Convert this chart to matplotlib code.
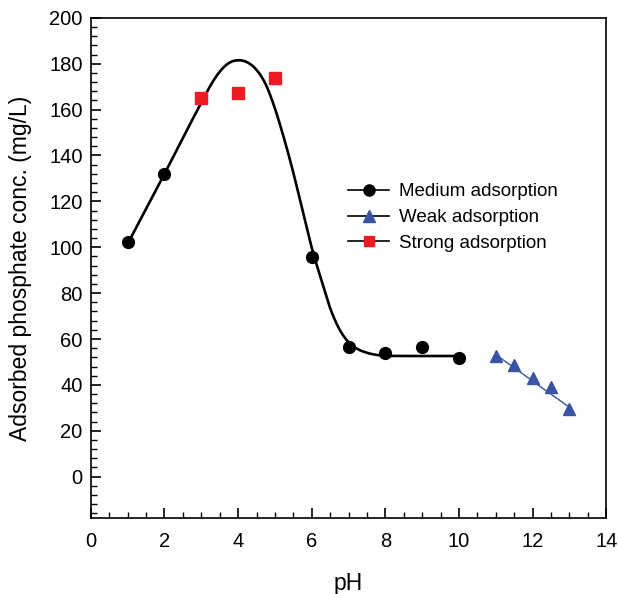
import numpy as np
import matplotlib
matplotlib.use("Agg")
import matplotlib.pyplot as plt
from matplotlib.lines import Line2D
from matplotlib.ticker import MultipleLocator

plt.rcParams['font.family'] = ['Liberation Sans', 'DejaVu Sans']

# ---- data ----
medium_x = [1, 2, 6, 7, 8, 9, 10]
medium_y = [102.3, 131.8, 95.6, 56.5, 54.1, 56.6, 51.8]

strong_x = [3, 4, 5]
strong_y = [165.2, 167.3, 173.8]

weak_x = [11, 11.5, 12, 12.5, 13]
weak_y = [52.8, 48.6, 42.8, 39.2, 29.4]

# fitted curve
fit_x = [1.0, 1.5, 2.0, 2.5, 3.0, 3.25, 3.5, 3.75, 4.0, 4.25, 4.5, 4.75,
         5.0, 5.25, 5.5, 5.75, 6.0, 6.25, 6.5, 6.75, 7.0, 7.25, 7.5, 7.75,
         8.0, 8.5, 9.0, 9.5, 10.0]
fit_y = [101.5, 116.8, 132.0, 147.7, 163.0, 170.5, 176.5, 180.3, 181.5, 180.6,
         177.3, 171.0, 160.5, 147.3, 132.5, 116.0, 99.8, 86.3, 73.5, 64.3,
         58.6, 55.6, 54.0, 53.1, 52.7, 52.6, 52.6, 52.6, 52.6]

weak_fit_x = [11, 13]
weak_fit_y = [53.2, 30.2]

x_ticks = [0, 2, 4, 6, 8, 10, 12, 14]
y_ticks = [0, 20, 40, 60, 80, 100, 120, 140, 160, 180, 200]

labels = ["Medium adsorption", "Weak adsorption", "Strong adsorption"]
x_label = "pH"
y_label = "Adsorbed phosphate conc. (mg/L)"

black = "#000000"
red = "#ED1C24"
blue = "#3A53A4"


def catmull_rom(xs, ys, n=20):
    P = np.column_stack([xs, ys]).astype(float)
    P = np.vstack([P[0], P, P[-1]])
    out = []
    for i in range(1, len(P) - 2):
        p0, p1, p2, p3 = P[i - 1], P[i], P[i + 1], P[i + 2]
        t = np.linspace(0, 1, n, endpoint=False)[:, None]
        seg = 0.5 * ((2 * p1) + (-p0 + p2) * t + (2 * p0 - 5 * p1 + 4 * p2 - p3) * t ** 2
                     + (-p0 + 3 * p1 - 3 * p2 + p3) * t ** 3)
        out.append(seg)
    out.append(P[-2][None, :])
    out = np.vstack(out)
    return out[:, 0], out[:, 1]


fig = plt.figure(figsize=(6.18, 5.94), dpi=100)
ax = fig.add_axes([0.147, 0.128, 0.834, 0.842])

cx, cy = catmull_rom(fit_x, fit_y)
ax.plot(cx, cy, color=black, lw=1.9, zorder=2)
ax.plot(weak_fit_x, weak_fit_y, color=blue, lw=1.0, zorder=2)

ax.plot(medium_x, medium_y, 'o', color=black, ms=8.5, zorder=3)
ax.plot(strong_x, strong_y, 's', color=red, ms=8.0, zorder=3)
ax.plot(weak_x, weak_y, '^', color=blue, ms=8.5, zorder=3)

ax.set_xlim(0, 14)
ax.set_ylim(-18, 200)
ax.set_xticks(x_ticks)
ax.set_yticks(y_ticks)
ax.xaxis.set_minor_locator(MultipleLocator(0.5))
ax.yaxis.set_minor_locator(MultipleLocator(4))
ax.tick_params(which='both', direction='in', top=False, right=False,
               labelsize=14.5)
ax.tick_params(axis='x', which='major', pad=10)
ax.tick_params(axis='y', which='major', pad=6)
ax.tick_params(which='major', length=7, width=1.2)
ax.tick_params(which='minor', length=4, width=1.0)
for s in ax.spines.values():
    s.set_linewidth(1.2)

ax.set_xlabel(x_label, fontsize=16.5, labelpad=15)
ax.set_ylabel(y_label, fontsize=16.5, labelpad=12)

handles = [
    Line2D([], [], color=black, lw=1.2, marker='o', ms=8, mfc=black, mec=black),
    Line2D([], [], color=black, lw=1.2, marker='^', ms=8, mfc=blue, mec=blue),
    Line2D([], [], color=black, lw=1.2, marker='s', ms=7.5, mfc=red, mec=red),
]
ax.legend(handles, labels, loc='upper left', bbox_to_anchor=(0.499, 0.669),
          frameon=False, fontsize=13.5, handlelength=2.2, handletextpad=0.5,
          labelspacing=0.46, borderpad=0, borderaxespad=0)

fig.savefig("out.png", dpi=100)
